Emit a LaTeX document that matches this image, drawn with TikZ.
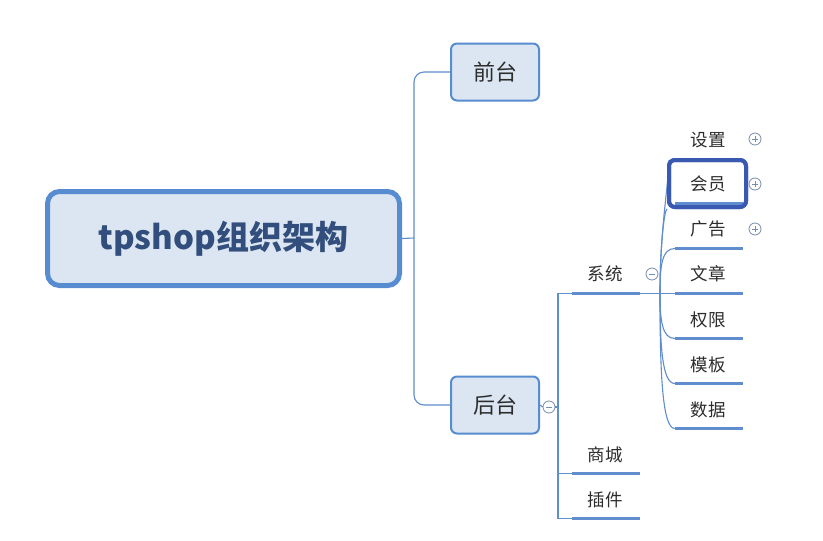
\documentclass[tikz,border=0pt]{standalone}
\usepackage{fontspec}
\setmainfont{Noto Sans CJK SC}
\newfontfamily\cjk{Noto Sans CJK SC}
\definecolor{lineblue}{RGB}{96,141,205}
\definecolor{rootblue}{RGB}{88,140,208}
\definecolor{boxfill}{RGB}{220,230,242}
\definecolor{roottext}{RGB}{50,78,124}
\definecolor{memberblue}{RGB}{58,90,178}
\definecolor{textgray}{RGB}{45,45,45}
\definecolor{circgray}{RGB}{120,140,175}
\begin{document}
\begin{tikzpicture}[x=1pt,y=-1pt,
  conn/.style={draw=lineblue, line width=1.1pt},
  rootbox/.style={draw=rootblue, line width=5pt, fill=boxfill, rounded corners=12pt,
    minimum width=352pt, minimum height=94pt, inner sep=0pt,
    font=\cjk\bfseries\fontsize{33}{33}\selectfont, text=roottext},
  topbox/.style={draw=rootblue, line width=2pt, fill=boxfill, rounded corners=6pt,
    minimum width=88pt, minimum height=57pt, inner sep=0pt,
    font=\cjk\fontsize{22}{22}\selectfont, text=textgray},
  leaf/.style={font=\cjk\fontsize{17.5}{17.5}\selectfont, text=textgray, inner sep=0pt},
  uline/.style={fill=lineblue, draw=none, minimum width=68pt, minimum height=3pt, inner sep=0pt},
  membox/.style={draw=memberblue, line width=4pt, fill=white, rounded corners=6pt,
    minimum width=77pt, minimum height=47pt, inner sep=0pt},
  circ/.style={circle, draw=circgray, line width=0.8pt, fill=white, minimum size=12pt, inner sep=0pt},
  minus/.style={circ, path picture={\draw[circgray, line width=0.8pt]
    ([xshift=-3pt]path picture bounding box.center) -- ([xshift=3pt]path picture bounding box.center);}},
  plus/.style={circ, path picture={\draw[circgray, line width=0.8pt]
    ([xshift=-3pt]path picture bounding box.center) -- ([xshift=3pt]path picture bounding box.center)
    ([yshift=-3pt]path picture bounding box.center) -- ([yshift=3pt]path picture bounding box.center);}}
]
\useasboundingbox (0,0) rectangle (823,541);
\fill[white] (0,0) rectangle (823,541);

% main boxes
\node[rootbox] (root) at (223.5,238.5) {tpshop组织架构};
\node[topbox] (qian) at (495,72) {前台};
\node[topbox] (hou) at (495,405) {后台};

\coordinate (tr1) at (414,238);
\draw[conn] (root.east) -- (tr1);
\draw[conn, rounded corners=10pt] (qian.west) -| (tr1) |- (hou.west);

% second level
\node[minus] (c-hou) at (549,407) {};
\coordinate (tr2) at (558,407);
\draw[conn] (hou.east) -- (c-hou.west);
\draw[conn] (c-hou.east) -- (tr2);

\node[uline] (u-xt) at (606,293.5) {};
\node[uline] (u-sc) at (606,473.5) {};
\node[uline] (u-cj) at (606,518.5) {};
\node[leaf] (xt) at (605,274) {系统};
\node[leaf] (sc) at (605,455) {商城};
\node[leaf] (cj) at (605,500) {插件};
\draw[conn] (u-xt.west) -| (tr2) |- (u-cj.west);
\draw[conn] (u-sc.west) -- (u-sc.west -| tr2);
\node[minus] (c-xt) at (652,274) {};

% third level
\coordinate (j3) at (660,293.5);
\draw[conn] (u-xt.east) -- (j3);
\node[membox] (hy) at (707.5,183.5) {};
\node[uline] (u-hy) at (709,203.5) {};
\node[uline] (u-gg) at (709,248.5) {};
\node[uline] (u-wz) at (709,293.5) {};
\node[uline] (u-qx) at (709,338.5) {};
\node[uline] (u-mb) at (709,383.5) {};
\node[uline] (u-sj) at (709,428.5) {};
\coordinate (u-sz) at (669,160);

\draw[conn] (j3) .. controls (660,250) and (664,210) .. (hy.south west);
\draw[conn] (j3) .. controls (660,230) and (668,190) .. (u-sz);
\draw[conn] (j3) .. controls (660,265) and (662,248.5) .. (u-gg.west);
\draw[conn] (j3) -- (u-wz.west);
\draw[conn] (j3) .. controls (660,320) and (662,338.5) .. (u-qx.west);
\draw[conn] (j3) .. controls (660,345) and (662,383.5) .. (u-mb.west);
\draw[conn] (j3) .. controls (660,370) and (662,428.5) .. (u-sj.west);
\node[membox, fill=none] at (hy) {};

\node[leaf] (sz) at (708,140) {设置};
\node[leaf] (hyt) at (708,184) {会员};
\node[leaf] (gg) at (708,229) {广告};
\node[leaf] (wz) at (708,274) {文章};
\node[leaf] (qx) at (708,320) {权限};
\node[leaf] (mb) at (708,365) {模板};
\node[leaf] (sj) at (708,410) {数据};

\node[plus] (p-sz) at (755,139) {};
\node[plus] (p-hy) at (755,184) {};
\node[plus] (p-gg) at (755,229) {};
\end{tikzpicture}
\end{document}
